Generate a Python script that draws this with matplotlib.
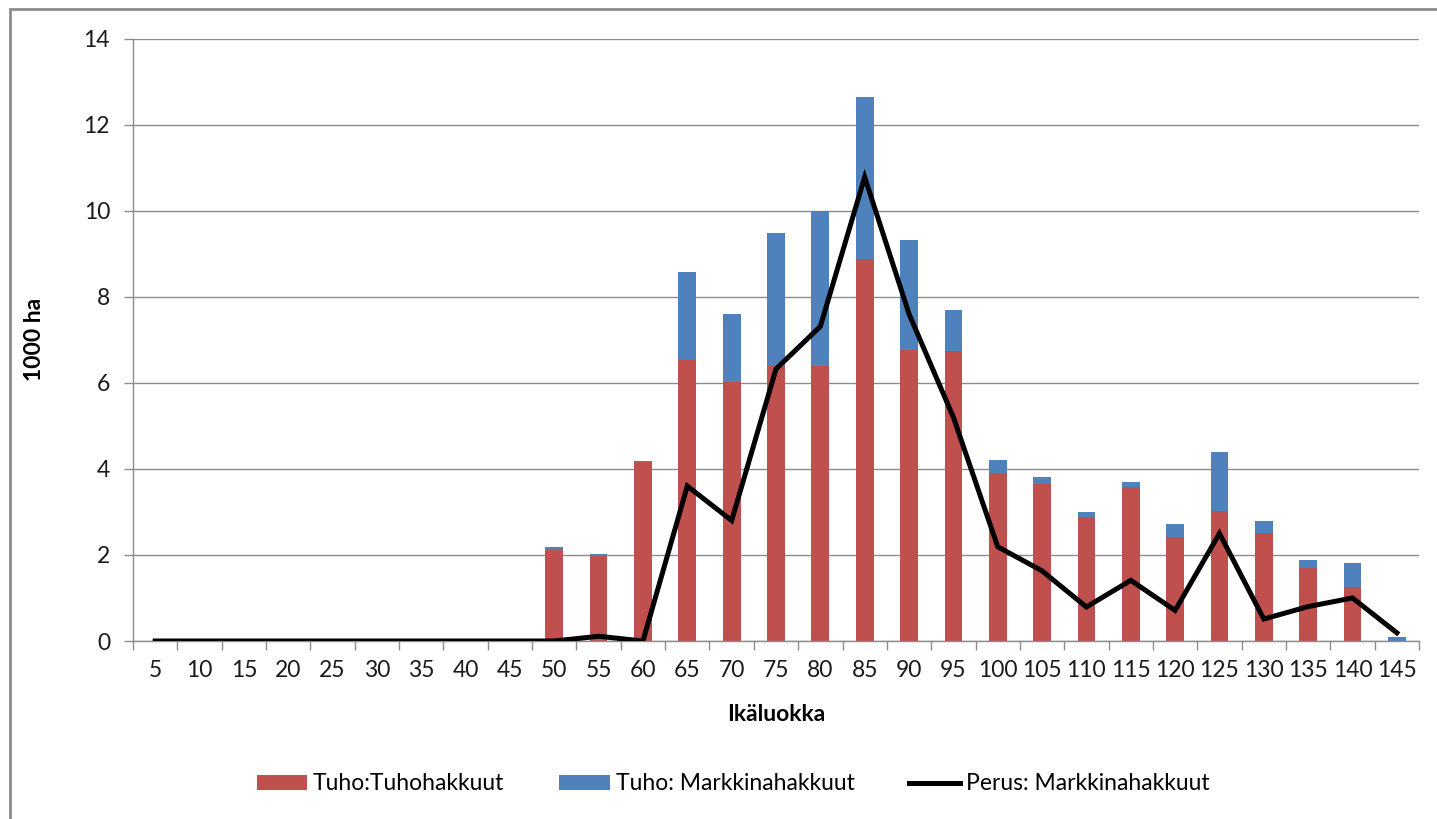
import numpy as np
import matplotlib.pyplot as plt
from matplotlib.patches import Rectangle

plt.rcParams['font.family'] = ['Lato', 'DejaVu Sans']

# age classes
ages = [5, 10, 15, 20, 25, 30, 35, 40, 45, 50, 55, 60, 65, 70, 75,
        80, 85, 90, 95, 100, 105, 110, 115, 120, 125, 130, 135, 140, 145]

# Tuho: Tuhohakkuut (red, bottom)
tuho_tuho = [0, 0, 0, 0, 0, 0, 0, 0, 0, 2.12, 1.98, 4.15, 6.53, 6.01, 6.38,
             6.38, 8.88, 6.76, 6.73, 3.90, 3.64, 2.89, 3.59, 2.42, 3.03,
             2.51, 1.70, 1.25, 0]
# Tuho: Markkinahakkuut (blue, on top)
tuho_markkina = [0, 0, 0, 0, 0, 0, 0, 0, 0, 0.06, 0.03, 0.04, 2.05, 1.59, 3.11,
                 3.62, 3.75, 2.55, 0.96, 0.30, 0.17, 0.11, 0.11, 0.29, 1.37,
                 0.29, 0.19, 0.56, 0.09]
# Perus: Markkinahakkuut (line)
perus_markkina = [0, 0, 0, 0, 0, 0, 0, 0, 0, 0, 0.11, 0, 3.6, 2.8, 6.32,
                  7.31, 10.78, 7.6, 5.2, 2.19, 1.63, 0.79, 1.41, 0.71, 2.50,
                  0.51, 0.80, 1.0, 0.19]

red = '#C0504D'
blue = '#4F81BD'
grid_col = '#8C8C8C'

fig = plt.figure(figsize=(14.37, 8.19), dpi=100)
ax = fig.add_axes([133 / 1437, 178 / 819, 1286 / 1437, 602.5 / 819])

x = np.arange(len(ages))
b1 = ax.bar(x, tuho_tuho, width=0.4, color=red, label='Tuho:Tuhohakkuut', zorder=2)
b2 = ax.bar(x, tuho_markkina, width=0.4, bottom=tuho_tuho, color=blue,
            label='Tuho: Markkinahakkuut', zorder=2)
l1, = ax.plot(x, perus_markkina, color='black', lw=3.6, label='Perus: Markkinahakkuut',
              zorder=3, solid_joinstyle='miter')

ax.set_xlim(-0.5, len(ages) - 0.5)
ax.set_ylim(0, 14)
ax.set_yticks(range(0, 15, 2))
ax.yaxis.grid(True, color=grid_col, lw=1)
ax.set_axisbelow(True)

ax.set_xticks(x)
ax.set_xticklabels([str(a) for a in ages])
ax.set_xticks(np.arange(-0.5, len(ages), 1), minor=True)
ax.tick_params(axis='x', which='major', length=0, pad=14, labelsize=16.5, colors='#1a1a1a')
ax.tick_params(axis='x', which='minor', length=6.5, width=1, color=grid_col)
ax.tick_params(axis='y', length=6.5, width=1, color=grid_col, pad=10,
               labelsize=16.5, labelcolor='#1a1a1a')

for s in ['top', 'right']:
    ax.spines[s].set_visible(False)
for s in ['left', 'bottom']:
    ax.spines[s].set_color(grid_col)
    ax.spines[s].set_linewidth(1)

ax.set_xlabel('Ikäluokka', fontsize=16.5, fontweight='bold', labelpad=16)
ax.set_ylabel('1000 ha', fontsize=16.5, fontweight='bold', labelpad=28)

fig.legend(handles=[b1, b2, l1], loc='center', bbox_to_anchor=(733 / 1437, 1 - 784 / 819),
           ncol=3, frameon=False, fontsize=16.5, handlelength=2.2, handleheight=0.6,
           columnspacing=2.4, handletextpad=0.25)

# chart area border (only left and top visible in the crop)
fig.patches.append(Rectangle((10 / 1437, -0.1), 1.2, 0.1 + (819 - 9) / 819,
                             transform=fig.transFigure, fill=False,
                             edgecolor='#8C8C8C', lw=2))

fig.savefig('out.png', dpi=100)
